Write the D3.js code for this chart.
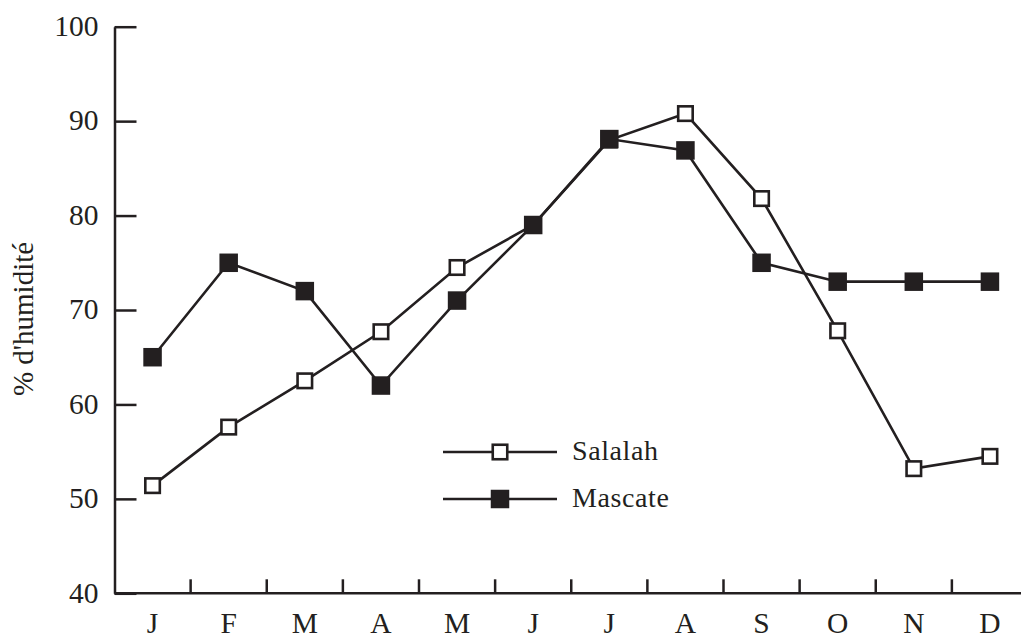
<!DOCTYPE html>
<html>
<head>
<meta charset="utf-8">
<script src="https://cdn.jsdelivr.net/npm/d3@7/dist/d3.min.js"></script>
<style>
  html, body { margin: 0; padding: 0; background: #fff; }
  svg { display: block; }
  text { font-family: "Liberation Serif", "Times New Roman", serif; fill: #231f20; }
</style>
</head>
<body>
<svg id="chart" width="1021" height="639"></svg>
<script>
const months = ["J", "F", "M", "A", "M", "J", "J", "A", "S", "O", "N", "D"];
const salalah = [51.4, 57.6, 62.5, 67.7, 74.5, 79, 88, 90.8, 81.8, 67.8, 53.2, 54.5];
const mascate = [65, 75, 72, 62, 71, 79, 88.1, 86.9, 75, 73, 73, 73];
const yTicks = [40, 50, 60, 70, 80, 90, 100];
const seriesNames = ["Salalah", "Mascate"];
const yLabel = "% d'humidité";

const ink = "#231f20";
const svg = d3.select("#chart");

const idx = months.map((d, i) => i);
const x = d3.scaleBand().domain(idx).range([114.5, 1028]).paddingInner(0).paddingOuter(0);
const y = d3.scaleLinear().domain([40, 100]).range([593.3, 26.7]);

// Y axis
const yAxis = d3.axisLeft(y).tickValues(yTicks).tickSize(-22).tickPadding(16).tickSizeOuter(0);
const gy = svg.append("g").attr("transform", `translate(${x.range()[0]},0)`).call(yAxis);
gy.select(".domain").attr("stroke", ink).attr("stroke-width", 2.5);
gy.selectAll(".tick line").attr("stroke", ink).attr("stroke-width", 2.5);
gy.selectAll(".tick text").attr("font-size", 29.5).attr("fill", ink).attr("dy", "0.3em")
  .style("font-family", '"Liberation Serif", serif');

// X axis
const gx = svg.append("g").attr("transform", `translate(0,${y(40)})`);
gx.append("line").attr("x1", x.range()[0]).attr("x2", 1021).attr("y1", 0).attr("y2", 0)
  .attr("stroke", ink).attr("stroke-width", 2.5);
gx.selectAll("line.sep").data(idx.slice(1)).enter().append("line").attr("class", "sep")
  .attr("x1", d => x(d)).attr("x2", d => x(d)).attr("y1", 0).attr("y2", -14)
  .attr("stroke", ink).attr("stroke-width", 2.5);
gx.selectAll("text.m").data(idx).enter().append("text").attr("class", "m")
  .attr("x", d => x(d) + x.bandwidth() / 2).attr("y", 40)
  .attr("text-anchor", "middle").attr("font-size", 29.5).text(d => months[d]);

// Y label
svg.append("text").attr("transform", "translate(33,319) rotate(-90)")
  .attr("text-anchor", "middle").attr("font-size", 29).text(yLabel);

const cx = i => x(i) + x.bandwidth() / 2;
const line = d3.line().x((d, i) => cx(i)).y(d => y(d));

svg.append("path").datum(salalah).attr("d", line).attr("fill", "none")
  .attr("stroke", ink).attr("stroke-width", 2.6);
svg.append("path").datum(mascate).attr("d", line).attr("fill", "none")
  .attr("stroke", ink).attr("stroke-width", 2.6);

const openS = 14.5, fillS = 18.5;
svg.selectAll("rect.sal").data(salalah).enter().append("rect").attr("class", "sal")
  .attr("x", (d, i) => cx(i) - openS / 2).attr("y", d => y(d) - openS / 2)
  .attr("width", openS).attr("height", openS)
  .attr("fill", "#fff").attr("stroke", ink).attr("stroke-width", 2.6);
svg.selectAll("rect.mas").data(mascate).enter().append("rect").attr("class", "mas")
  .attr("x", (d, i) => cx(i) - fillS / 2).attr("y", d => y(d) - fillS / 2)
  .attr("width", fillS).attr("height", fillS).attr("fill", ink);

// Legend
const leg = svg.append("g");
const legY = [452, 499];
seriesNames.forEach((name, k) => {
  const g = leg.append("g").attr("transform", `translate(0,${legY[k]})`);
  g.append("line").attr("x1", 443).attr("x2", 557).attr("y1", 0).attr("y2", 0)
    .attr("stroke", ink).attr("stroke-width", 2.6);
  if (k === 0) {
    g.append("rect").attr("x", 500 - openS / 2).attr("y", -openS / 2).attr("width", openS).attr("height", openS)
      .attr("fill", "#fff").attr("stroke", ink).attr("stroke-width", 2.6);
  } else {
    g.append("rect").attr("x", 500 - fillS / 2).attr("y", -fillS / 2).attr("width", fillS).attr("height", fillS)
      .attr("fill", ink);
  }
  g.append("text").attr("x", 572).attr("y", 8).attr("font-size", 28).attr("letter-spacing", 0.6).text(name);
});
</script>
</body>
</html>
